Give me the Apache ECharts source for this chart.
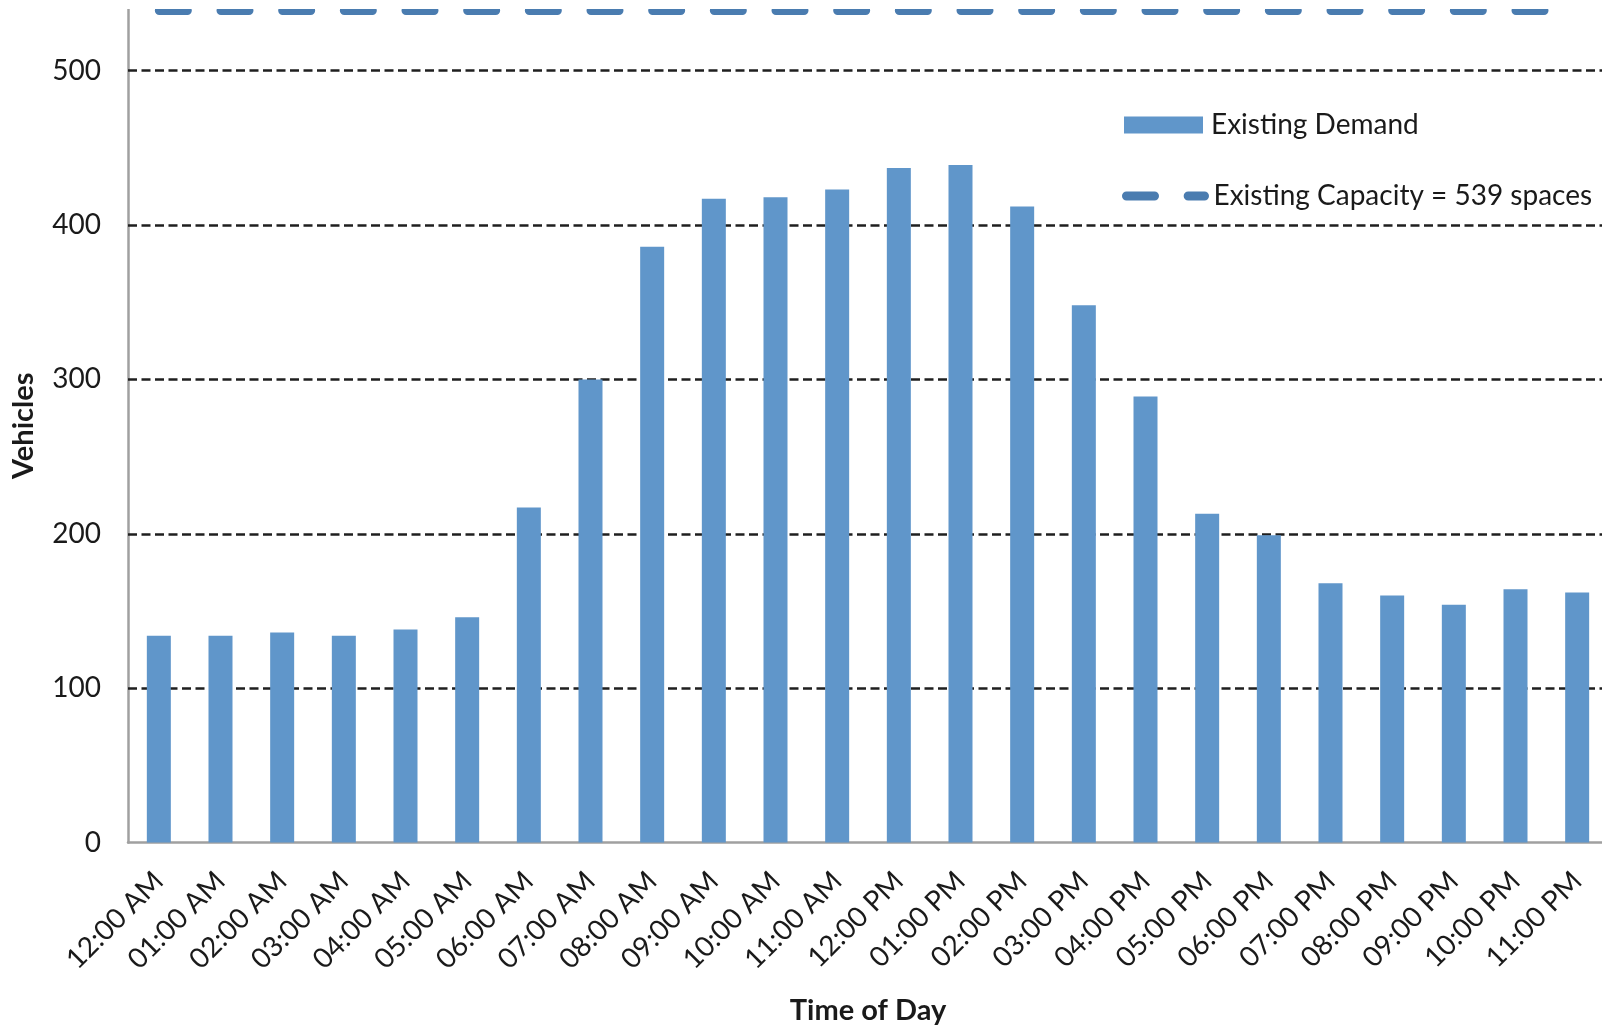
<!DOCTYPE html>
<html>
<head>
<meta charset="utf-8">
<title>Parking Demand by Time of Day</title>
<script src="https://cdn.jsdelivr.net/npm/echarts@6/dist/echarts.min.js"></script>
<style>
  html, body { margin: 0; padding: 0; background: #ffffff; }
  #chart { width: 1602px; height: 1029px; }
</style>
</head>
<body>
<div id="chart"></div>
<script>
// Hourly time slots along the x axis
var categories = [
  '12:00 AM', '01:00 AM', '02:00 AM', '03:00 AM', '04:00 AM', '05:00 AM',
  '06:00 AM', '07:00 AM', '08:00 AM', '09:00 AM', '10:00 AM', '11:00 AM',
  '12:00 PM', '01:00 PM', '02:00 PM', '03:00 PM', '04:00 PM', '05:00 PM',
  '06:00 PM', '07:00 PM', '08:00 PM', '09:00 PM', '10:00 PM', '11:00 PM'
];

// Parked vehicles counted in each hour
var demand = [
  134, 134, 136, 134, 138, 146,
  217, 300, 386, 417, 418, 423,
  437, 439, 412, 348, 289, 213,
  199, 168, 160, 154, 164, 162
];

// Supply of spaces, constant through the day
var capacity = [
  539, 539, 539, 539, 539, 539,
  539, 539, 539, 539, 539, 539,
  539, 539, 539, 539, 539, 539,
  539, 539, 539, 539, 539, 539
];

// Value-axis ticks and the dashed gridlines drawn at them
var yTicks = [0, 100, 200, 300, 400, 500];
var gridValues = [100, 200, 300, 400, 500];

var demandName = 'Existing Demand';
var capacityName = 'Existing Capacity = 539 spaces';

var FONT = 'Lato, "Open Sans", sans-serif';
var TEXT = '#1a1a1a';
var BAR = '#6096ca';
var CAP = '#4a7cb0';
var AXIS = '#a0a0a0';

var chart = echarts.init(document.getElementById('chart'), null, { renderer: 'canvas' });

chart.setOption({
  backgroundColor: '#ffffff',
  animation: false,
  textStyle: { fontFamily: FONT, color: TEXT },
  grid: {
    left: 128,
    top: 9,
    right: -6,
    bottom: 186.5,
    outerBoundsMode: 'none',
    containLabel: false
  },
  legend: [
    {
      data: [demandName],
      orient: 'vertical',
      left: 1124,
      top: 111,
      padding: 0,
      itemWidth: 79,
      itemHeight: 17,
      icon: 'rect',
      selectedMode: false,
      textStyle: { fontFamily: FONT, fontSize: 28, color: TEXT, padding: [0, 0, 0, 3] }
    },
    {
      data: [capacityName],
      orient: 'vertical',
      left: 1122,
      top: 182,
      padding: 0,
      itemWidth: 78,
      itemHeight: 17,
      selectedMode: false,
      // dashed swatch only, no marker dot in the middle
      itemStyle: { opacity: 0 },
      lineStyle: { width: 9, type: [28, 33.66], dashOffset: 0, cap: 'round' },
      textStyle: { fontFamily: FONT, fontSize: 28, color: TEXT, padding: [0, 0, 0, 4] }
    }
  ],
  xAxis: {
    type: 'category',
    data: categories,
    boundaryGap: true,
    name: 'Time of Day',
    nameLocation: 'middle',
    nameGap: 154,
    nameTextStyle: { fontFamily: FONT, fontSize: 29, fontWeight: 'bold', color: TEXT },
    axisLine: { show: true, lineStyle: { color: AXIS, width: 2.5 } },
    axisTick: { show: false },
    splitLine: { show: false },
    axisLabel: {
      interval: 0,
      rotate: 45,
      verticalAlign: 'middle',
      margin: 34,
      fontFamily: FONT,
      fontSize: 28,
      color: TEXT
    }
  },
  yAxis: {
    type: 'value',
    min: 0,
    max: 540,
    interval: 100,
    name: 'Vehicles',
    nameLocation: 'middle',
    nameRotate: 90,
    nameGap: 90,
    nameTextStyle: { fontFamily: FONT, fontSize: 29, fontWeight: 'bold', color: TEXT },
    axisLine: { show: true, lineStyle: { color: AXIS, width: 2.5 } },
    axisTick: { show: false },
    splitLine: { show: false },
    axisLabel: {
      margin: 27,
      padding: [6, 0, 0, 0],
      fontFamily: FONT,
      fontSize: 28,
      color: TEXT,
      formatter: function (v) {
        return yTicks.indexOf(v) >= 0 ? String(v) : '';
      }
    }
  },
  series: [
    {
      name: demandName,
      type: 'bar',
      data: demand,
      barWidth: 24,
      z: 2,
      itemStyle: { color: BAR },
      markLine: {
        silent: true,
        z: 1,
        symbol: ['none', 'none'],
        label: { show: false },
        emphasis: { disabled: true },
        lineStyle: { color: '#1f1f1f', width: 2.5, type: [9, 4.5] },
        data: gridValues.map(function (v) { return { yAxis: v }; })
      }
    },
    {
      name: capacityName,
      type: 'line',
      data: capacity,
      symbol: 'none',
      z: 3,
      lineStyle: { color: CAP, width: 9, type: [28, 33.6667], dashOffset: -0.5, cap: 'round' },
      itemStyle: { color: CAP }
    }
  ],
  graphic: [
    {
      // white band above the plotting area so the capacity line is cut at the frame
      type: 'rect',
      z: 100,
      silent: true,
      shape: { x: 0, y: 0, width: 1602, height: 9 },
      style: { fill: '#ffffff' }
    }
  ]
});
</script>
</body>
</html>
